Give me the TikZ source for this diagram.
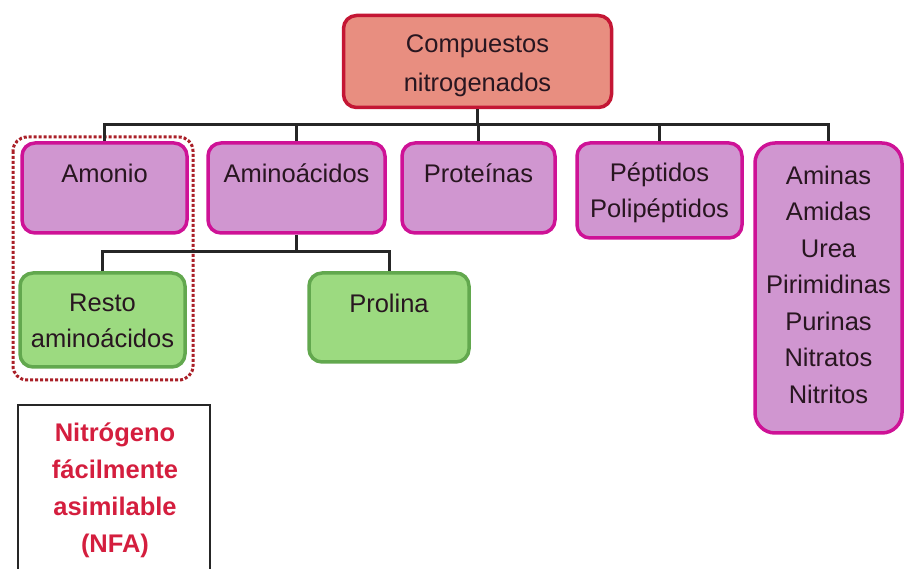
\documentclass[tikz,border=0pt]{standalone}
\usepackage{fontspec}
\setmainfont{Liberation Sans}
\definecolor{rootfill}{RGB}{232,142,128}
\definecolor{rootdraw}{RGB}{196,22,52}
\definecolor{purfill}{RGB}{208,150,208}
\definecolor{purdraw}{RGB}{206,18,150}
\definecolor{grnfill}{RGB}{156,218,128}
\definecolor{grndraw}{RGB}{98,168,78}
\definecolor{nfared}{RGB}{212,30,62}
\definecolor{dotred}{RGB}{170,32,40}
\definecolor{txt}{RGB}{40,22,32}
\tikzset{
  boxbase/.style={rounded corners=13pt, line width=3.5pt, inner sep=0pt},
  rootbox/.style={boxbase, draw=rootdraw, fill=rootfill},
  purbox/.style={boxbase, draw=purdraw, fill=purfill},
  grnbox/.style={boxbase, draw=grndraw, fill=grnfill},
  lbl/.style={anchor=north, inner sep=0pt, align=center, text=txt,
    font=\fontsize{25.5}{36.5}\selectfont},
  conn/.style={draw=black!85, line width=3pt},
}
\begin{document}
\begin{tikzpicture}[x=1pt,y=-1pt]
\useasboundingbox (0,0) rectangle (919,569);
% boxes
\node[rootbox, minimum width=268, minimum height=92] (root) at (477.5,61.5) {};
\node[purbox, minimum width=165, minimum height=90] (amonio) at (104.5,188) {};
\node[purbox, minimum width=177, minimum height=90] (amino) at (296.5,188) {};
\node[purbox, minimum width=153, minimum height=90] (prot) at (478.5,188) {};
\node[purbox, minimum width=165, minimum height=95] (pept) at (659.5,190.5) {};
\node[purbox, rounded corners=20pt, minimum width=147, minimum height=290] (aminas) at (828.5,288) {};
\node[grnbox, minimum width=165, minimum height=94] (resto) at (102.5,320) {};
\node[grnbox, minimum width=160, minimum height=89] (prolina) at (389,317.5) {};
% dotted group
\draw[dotred, line width=3pt, dash pattern=on 3pt off 2pt, rounded corners=14pt]
  (13,137) rectangle (193,380);
% NFA box
\node[draw=black!85, line width=2.5pt, minimum width=192, minimum height=180, inner sep=0pt] (nfa) at (114,495) {};
% labels
\node[lbl, font=\fontsize{25.5}{39}\selectfont] (troot) at (477.5,25.3) {\strut Compuestos\\nitrogenados};
\node[lbl] (tamonio) at (104.5,156.6) {\strut Amonio};
\node[lbl] (tamino) at (296.5,156.6) {\strut Aminoácidos};
\node[lbl] (tprot) at (478.5,156.6) {\strut Proteínas};
\node[lbl] (tpept) at (659.5,155.6) {\strut Péptidos\\Polipéptidos};
\node[lbl] (taminas) at (828.5,158.6) {\strut Aminas\\Amidas\\Urea\\Pirimidinas\\Purinas\\Nitratos\\Nitritos};
\node[lbl] (tresto) at (102.5,285.6) {\strut Resto\\aminoácidos};
\node[lbl] (tprolina) at (389,286.6) {\strut Prolina};
\node[lbl, text=nfared, font=\fontsize{25.5}{37}\selectfont\bfseries] (tnfa) at (115,415.2) {\strut Nitrógeno\\fácilmente\\asimilable\\(NFA)};
% connectors
\coordinate (bus) at (477.5,125);
\coordinate (bus2) at (296.5,252);
\draw[conn] (root.south) -- (bus);
\draw[conn] (amonio.north) -- (amonio.north |- bus) -- (aminas.north |- bus) -- (aminas.north);
\draw[conn] (amino.north) -- (amino.north |- bus);
\draw[conn] (prot.north) -- (prot.north |- bus);
\draw[conn] (pept.north) -- (pept.north |- bus);
\draw[conn] (amino.south) -- (bus2);
\draw[conn] (resto.north) -- (resto.north |- bus2) -- (prolina.north |- bus2) -- (prolina.north);
\end{tikzpicture}
\end{document}
